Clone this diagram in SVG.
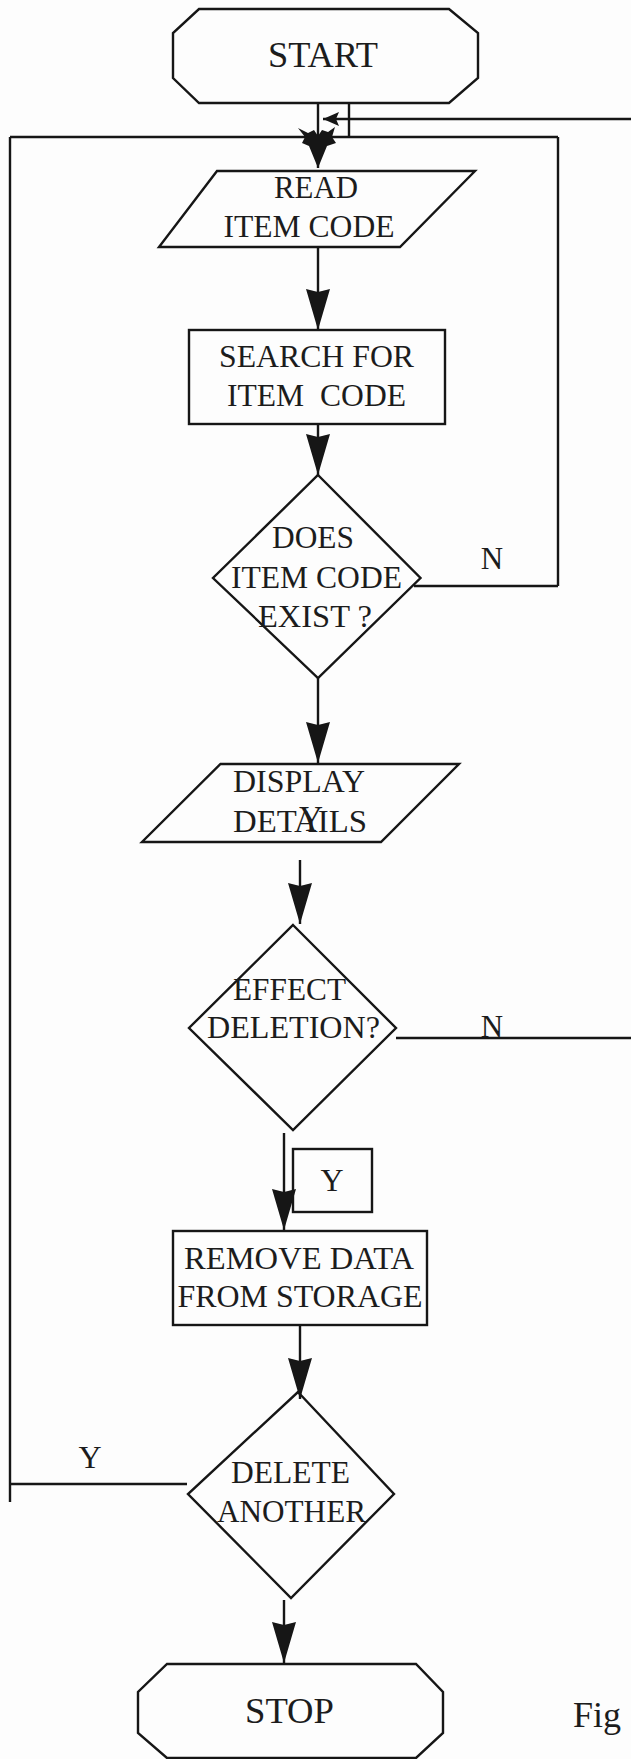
<svg xmlns="http://www.w3.org/2000/svg" width="631" height="1759" viewBox="0 0 631 1759">
  <style>
    .shape { fill: none; stroke: #161616; stroke-width: 2.4; stroke-linejoin: miter; }
    .boxfill { fill: #fdfdfd; }
    .wire { fill: none; stroke: #161616; stroke-width: 2.4; }
    .lbl { font-family: "Liberation Serif", "Times New Roman", serif; font-size: 31px; fill: #1c1c1c; text-anchor: middle; }
    .big { font-size: 36px; }
  </style>
  <defs>
    <marker id="arrow" markerUnits="userSpaceOnUse" markerWidth="42" markerHeight="26" refX="41" refY="13" orient="auto" viewBox="0 0 42 26">
      <path d="M0,1 L41,13 L0,25 L3,13 Z" fill="#161616"/>
    </marker>
    <marker id="arrowSmall" markerUnits="userSpaceOnUse" markerWidth="17" markerHeight="14" refX="16" refY="7" orient="auto" viewBox="0 0 17 14">
      <path d="M0,0 L16,7 L0,14 L3,7 Z" fill="#161616"/>
    </marker>
  </defs>

  <rect x="0" y="0" width="631" height="1759" fill="#fdfdfd"/>

  <!-- connectors -->
  <g id="connectors">
    <!-- start to read, with the return loops joining above READ -->
    <line class="wire" x1="318" y1="103" x2="318" y2="168"/>
    <line class="wire" x1="349" y1="103" x2="349" y2="137"/>
    <line class="wire" x1="631" y1="119" x2="323" y2="119" marker-end="url(#arrowSmall)"/>
    <line class="wire" x1="10" y1="137" x2="558" y2="137"/>
    <path d="M318,168 L309,146 L302,143 L305,137 L298,128 L308,133 L314,130 L318,136 L322,130 L328,132 L335,127 L332,137 L336,143 L327,146 Z" fill="#161616"/>

    <!-- left return from DELETE ANOTHER (Y) -->
    <line class="wire" x1="10" y1="137" x2="10" y2="1502"/>
    <line class="wire" x1="187" y1="1484" x2="10" y2="1484"/>

    <!-- right return from ITEM CODE EXIST (N) -->
    <line class="wire" x1="558" y1="137" x2="558" y2="586"/>
    <line class="wire" x1="414" y1="586" x2="558" y2="586"/>

    <!-- EFFECT DELETION N branch, running off to the right -->
    <line class="wire" x1="396" y1="1038" x2="631" y2="1038"/>

    <!-- main flow -->
    <line class="wire" x1="318" y1="247" x2="318" y2="330" marker-end="url(#arrow)"/>
    <line class="wire" x1="318" y1="424" x2="318" y2="475" marker-end="url(#arrow)"/>
    <line class="wire" x1="318" y1="678" x2="318" y2="763" marker-end="url(#arrow)"/>
    <line class="wire" x1="300" y1="860" x2="300" y2="924" marker-end="url(#arrow)"/>
    <line class="wire" x1="284" y1="1133" x2="284" y2="1230" marker-end="url(#arrow)"/>
    <line class="wire" x1="300" y1="1325" x2="300" y2="1399" marker-end="url(#arrow)"/>
    <line class="wire" x1="284" y1="1600" x2="284" y2="1663" marker-end="url(#arrow)"/>

    <!-- branch labels -->
    <text class="lbl" x="492" y="569">N</text>
    <text class="lbl" x="492" y="1037">N</text>
    <text class="lbl" x="90" y="1468" style="font-size:32px">Y</text>
  </g>

  <g id="start">
    <polygon class="shape" points="199,9 449,9 478,33 478,78 449,103 199,103 173,78 173,33"/>
    <text class="lbl big" x="323" y="67" textLength="110" lengthAdjust="spacingAndGlyphs">START</text>
  </g>

  <g id="read-item-code">
    <polygon class="shape" points="217,171 475,171 400,247 159,247"/>
    <text class="lbl" x="316" y="198" textLength="84" lengthAdjust="spacingAndGlyphs">READ</text>
    <text class="lbl" x="309" y="237" textLength="171" lengthAdjust="spacingAndGlyphs">ITEM CODE</text>
  </g>

  <g id="search-item-code">
    <rect class="shape" x="189" y="330" width="256" height="94"/>
    <text class="lbl" x="316.5" y="367" textLength="195" lengthAdjust="spacingAndGlyphs">SEARCH FOR</text>
    <text class="lbl" x="316.5" y="406" textLength="179" lengthAdjust="spacingAndGlyphs" xml:space="preserve">ITEM  CODE</text>
  </g>

  <g id="code-exists">
    <polygon class="shape" points="318,475 420.5,578 318,678 213,578"/>
    <text class="lbl" x="313" y="548" textLength="82" lengthAdjust="spacingAndGlyphs">DOES</text>
    <text class="lbl" x="316.5" y="588" textLength="171" lengthAdjust="spacingAndGlyphs">ITEM CODE</text>
    <text class="lbl" x="315" y="627" textLength="114" lengthAdjust="spacingAndGlyphs">EXIST ?</text>
  </g>

  <g id="display-details">
    <polygon class="shape" points="220.5,764 459,764 381,842 142,842"/>
    <text class="lbl" x="299" y="792" textLength="132" lengthAdjust="spacingAndGlyphs">DISPLAY</text>
    <text class="lbl" x="300" y="832" textLength="134" lengthAdjust="spacingAndGlyphs">DETAILS</text>
    <text class="lbl" x="311" y="831" style="font-size:36px" textLength="24" lengthAdjust="spacingAndGlyphs">Y</text>
  </g>

  <g id="effect-deletion">
    <polygon class="shape" points="293,925 396,1028 293,1130 189,1028"/>
    <text class="lbl" x="289.5" y="1000" textLength="113" lengthAdjust="spacingAndGlyphs">EFFECT</text>
    <text class="lbl" x="293.5" y="1038" textLength="173" lengthAdjust="spacingAndGlyphs">DELETION?</text>
  </g>

  <g id="yes-label">
    <rect class="shape" x="293" y="1149" width="79" height="63"/>
    <text class="lbl" x="332" y="1191" style="font-size:32px">Y</text>
  </g>

  <g id="remove-data">
    <rect class="shape" x="173" y="1231" width="254" height="94"/>
    <text class="lbl" x="299" y="1269" textLength="230" lengthAdjust="spacingAndGlyphs">REMOVE DATA</text>
    <text class="lbl" x="300" y="1307" textLength="245" lengthAdjust="spacingAndGlyphs">FROM STORAGE</text>
  </g>

  <g id="delete-another">
    <polygon class="shape" points="298,1392 394,1494 291,1598 188,1494"/>
    <text class="lbl" x="290.5" y="1483" textLength="119" lengthAdjust="spacingAndGlyphs">DELETE</text>
    <text class="lbl" x="291.5" y="1522" textLength="149" lengthAdjust="spacingAndGlyphs">ANOTHER</text>
  </g>

  <g id="stop">
    <polygon class="shape" points="167,1664 416,1664 443,1692 443,1733 416,1758 167,1758 138,1733 138,1692"/>
    <text class="lbl big" x="289.5" y="1723" textLength="89" lengthAdjust="spacingAndGlyphs">STOP</text>
  </g>

  <g id="caption">
    <text class="lbl big" x="573" y="1727" style="text-anchor:start">Fig</text>
  </g>
</svg>
